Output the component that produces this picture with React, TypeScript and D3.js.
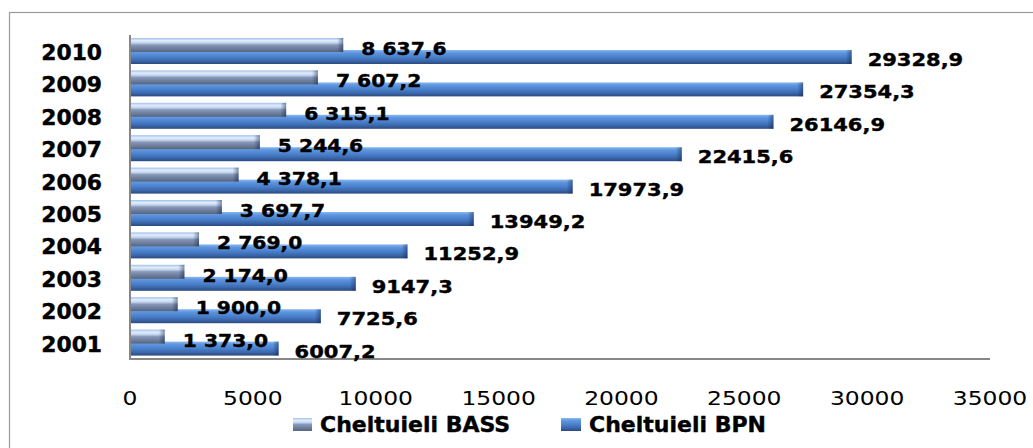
import React from 'react';
import * as d3 from 'd3';

const years = ['2001', '2002', '2003', '2004', '2005', '2006', '2007', '2008', '2009', '2010'];
const bassValues = [1373.0, 1900.0, 2174.0, 2769.0, 3697.7, 4378.1, 5244.6, 6315.1, 7607.2, 8637.6];
const bpnValues = [6007.2, 7725.6, 9147.3, 11252.9, 13949.2, 17973.9, 22415.6, 26146.9, 27354.3, 29328.9];
const bassLabels = ['1 373,0', '1 900,0', '2 174,0', '2 769,0', '3 697,7', '4 378,1', '5 244,6', '6 315,1', '7 607,2', '8 637,6'];
const bpnLabels = ['6007,2', '7725,6', '9147,3', '11252,9', '13949,2', '17973,9', '22415,6', '26146,9', '27354,3', '29328,9'];
const xTicks = [0, 5000, 10000, 15000, 20000, 25000, 30000, 35000];
const seriesNames = ['Cheltuieli BASS', 'Cheltuieli BPN'];

const W = 1033;
const H = 448;
const plotLeft = 131;
const plotRight = 991;
const plotTop = 35;
const plotBottom = 359;

export default function App() {
  const x = d3.scaleLinear().domain([0, 35000]).range([plotLeft, plotRight]);
  const y = d3
    .scaleBand<string>()
    .domain([...years].reverse())
    .range([plotTop, plotBottom])
    .paddingInner(0)
    .paddingOuter(0);

  const barH = 14;
  const font = "'DejaVu Sans', Verdana, sans-serif";

  return (
    <svg
      width={W}
      height={H}
      style={{ position: 'absolute', left: 0, top: 0, background: '#fff' }}
    >
      <defs>
        <linearGradient id="gBass" x1="0" y1="0" x2="0" y2="1">
          <stop offset="0" stopColor="#9ebee8" />
          <stop offset="0.18" stopColor="#e2edfb" />
          <stop offset="0.35" stopColor="#c2d6f0" />
          <stop offset="0.5" stopColor="#8898b8" />
          <stop offset="0.75" stopColor="#6e7e9e" />
          <stop offset="1" stopColor="#56647f" />
        </linearGradient>
        <linearGradient id="gBpn" x1="0" y1="0" x2="0" y2="1">
          <stop offset="0" stopColor="#8ab8f0" />
          <stop offset="0.2" stopColor="#5e96de" />
          <stop offset="0.5" stopColor="#4a80cc" />
          <stop offset="0.78" stopColor="#3a66a8" />
          <stop offset="1" stopColor="#2a4a80" />
        </linearGradient>
        <linearGradient id="gEnd" x1="0" y1="0" x2="1" y2="0">
          <stop offset="0" stopColor="#0a1a40" stopOpacity="0" />
          <stop offset="1" stopColor="#0a1a40" stopOpacity="0.45" />
        </linearGradient>
      </defs>

      {/* outer chart border */}
      <rect x={9.5} y={12.5} width={1100} height={500} fill="none" stroke="#9a9a9a" strokeWidth={1.2} />

      {/* bars: BPN behind, BASS in front */}
      {years.map((yr, i) => {
        const b = y(yr)!;
        const xe = x(bpnValues[i]);
        return (
          <g key={'bpn' + yr}>
            <rect x={x(0)} y={b + 15} width={xe - x(0)} height={barH} fill="url(#gBpn)" />
            <rect x={xe - 6} y={b + 15} width={6} height={barH} fill="url(#gEnd)" />
          </g>
        );
      })}
      {years.map((yr, i) => {
        const b = y(yr)!;
        const xe = x(bassValues[i]);
        return (
          <g key={'bass' + yr}>
            <rect x={x(0)} y={b + 3} width={xe - x(0)} height={barH} fill="url(#gBass)" />
            <rect x={xe - 6} y={b + 3} width={6} height={barH} fill="url(#gEnd)" />
          </g>
        );
      })}

      {/* axes */}
      <line x1={130} x2={130} y1={plotTop} y2={plotBottom + 1} stroke="#878787" strokeWidth={2} />
      <line x1={129} x2={plotRight - 1} y1={plotBottom} y2={plotBottom} stroke="#878787" strokeWidth={2} />

      {/* category labels */}
      {years.map((yr) => (
        <text
          key={'cat' + yr}
          transform={`translate(102,${y(yr)! + 25}) scale(1.04,1)`}
          textAnchor="end"
          fontFamily={font}
          fontWeight="bold"
          fontSize={21}
          fill="#000"
          stroke="#000"
          strokeWidth={0.4}
        >
          {yr}
        </text>
      ))}

      {/* data labels */}
      {years.map((yr, i) => (
        <g key={'lb' + yr} stroke="#000" strokeWidth={0.4}>
          <text
            transform={`translate(${x(bassValues[i]) + 18},${y(yr)! + 20}) scale(1.16,1)`}
            fontFamily={font}
            fontWeight="bold"
            fontSize={17.5}
            fill="#000"
          >
            {bassLabels[i]}
          </text>
          <text
            transform={`translate(${x(bpnValues[i]) + 16},${y(yr)! + 31}) scale(1.2,1)`}
            fontFamily={font}
            fontWeight="bold"
            fontSize={17.5}
            fill="#000"
          >
            {bpnLabels[i]}
          </text>
        </g>
      ))}

      {/* x tick labels */}
      {xTicks.map((t) => (
        <text
          key={'t' + t}
          transform={`translate(${x(t) - 1},405) scale(1.2,1)`}
          textAnchor="middle"
          fontFamily={font}
          fontSize={19.5}
          fill="#000"
        >
          {String(t)}
        </text>
      ))}

      {/* legend */}
      <rect x={293} y={418} width={19} height={13} fill="url(#gBass)" />
      <text x={320} y={432} fontFamily={font} fontWeight="bold" fontSize={22} fill="#000" stroke="#000" strokeWidth={0.4}>
        {seriesNames[0]}
      </text>
      <rect x={561} y={418} width={20} height={13} fill="url(#gBpn)" />
      <text x={589} y={432} fontFamily={font} fontWeight="bold" fontSize={22} fill="#000" stroke="#000" strokeWidth={0.4}>
        {seriesNames[1]}
      </text>
    </svg>
  );
}
